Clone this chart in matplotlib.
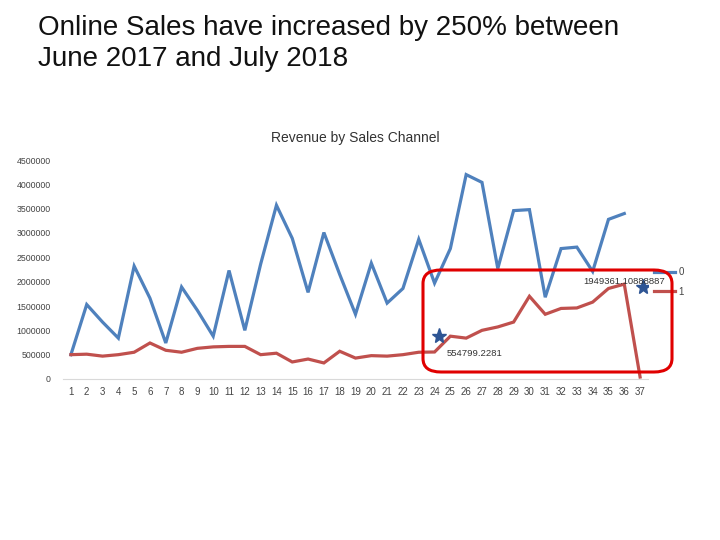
import matplotlib
matplotlib.use("Agg")
import matplotlib.pyplot as plt
from matplotlib.patches import FancyBboxPatch

plt.rcParams['font.family'] = ['Liberation Sans', 'DejaVu Sans']

periods = list(range(1, 38))
series0 = [500000, 1530000, 1170000, 840000, 2320000, 1660000, 740000, 1890000, 1410000, 880000,
           2230000, 1000000, 2360000, 3570000, 2890000, 1780000, 3010000, 2150000, 1330000, 2380000,
           1560000, 1860000, 2870000, 1970000, 2680000, 4200000, 4040000, 2270000, 3460000, 3480000,
           1680000, 2680000, 2710000, 2210000, 3280000, 3400000]
series1 = [500000, 510000, 470000, 500000, 550000, 740000, 590000, 550000, 630000, 660000,
           670000, 670000, 500000, 530000, 350000, 410000, 330000, 570000, 430000, 480000,
           470000, 500000, 550000, 554799.2281, 880000, 840000, 1000000, 1070000, 1170000, 1700000,
           1330000, 1450000, 1460000, 1580000, 1860000, 1949361.10888887, 40000]
series_names = ["0", "1"]
star_x = [24.3, 37.2]
star_y = [880000, 1900000]
labels_ann = ["554799.2281", "1949361.10888887"]
yticks = list(range(0, 4500001, 500000))

fig = plt.figure(figsize=(7.2, 5.4), dpi=100)
fig.text(38/720, 1-15/540, "Online Sales have increased by 250% between\nJune 2017 and July 2018",
         fontsize=20, va='top', ha='left', color='#111111', linespacing=1.25)

ax = fig.add_axes([63/720, 1-379/540, 585/720, 219/540])
ax.plot(periods[:len(series0)], series0, color='#4F81BD', lw=2.3, label=series_names[0], solid_joinstyle='miter')
ax.plot(periods, series1, color='#C0504D', lw=2.3, label=series_names[1], solid_joinstyle='miter')
ax.plot(star_x, star_y, linestyle='none', marker='*', markersize=11, color='#2E5594')
ax.text(24.75, 534000, labels_ann[0], fontsize=6.8, color='#333333', ha='left', va='center')
ax.text(33.4, 2010000, labels_ann[1], fontsize=6.8, color='#333333', ha='left', va='center')

ax.set_xlim(0.5, 37.5)
ax.set_ylim(0, 4500000)
ax.set_xticks(periods)
ax.set_xticklabels([str(p) for p in periods])
ax.set_yticks(yticks)
ax.set_yticklabels([str(v) for v in yticks])
ax.tick_params(axis='both', length=0, labelsize=7, colors='#444444')
ax.tick_params(axis='y', labelsize=6.3, pad=9)
ax.tick_params(axis='x', pad=6)
for s in ['top', 'right', 'left']:
    ax.spines[s].set_visible(False)
ax.spines['bottom'].set_color('#D9D9D9')
ax.set_title("Revenue by Sales Channel", fontsize=10, color='#333333', pad=13)

leg = ax.legend(loc='center left', bbox_to_anchor=(0.995, 0.443), frameon=False, fontsize=7,
                handlelength=2.2, handletextpad=0.3, labelspacing=0.95)
for t in leg.get_texts():
    t.set_color('#444444')

rect = FancyBboxPatch((423/720, 1-372/540), 249/720, 102/540,
                      boxstyle="round,pad=0,rounding_size=0.025",
                      transform=fig.transFigure, fill=False, edgecolor='#E00000', lw=2.2)
fig.patches.append(rect)

fig.savefig("out.png", dpi=100)
